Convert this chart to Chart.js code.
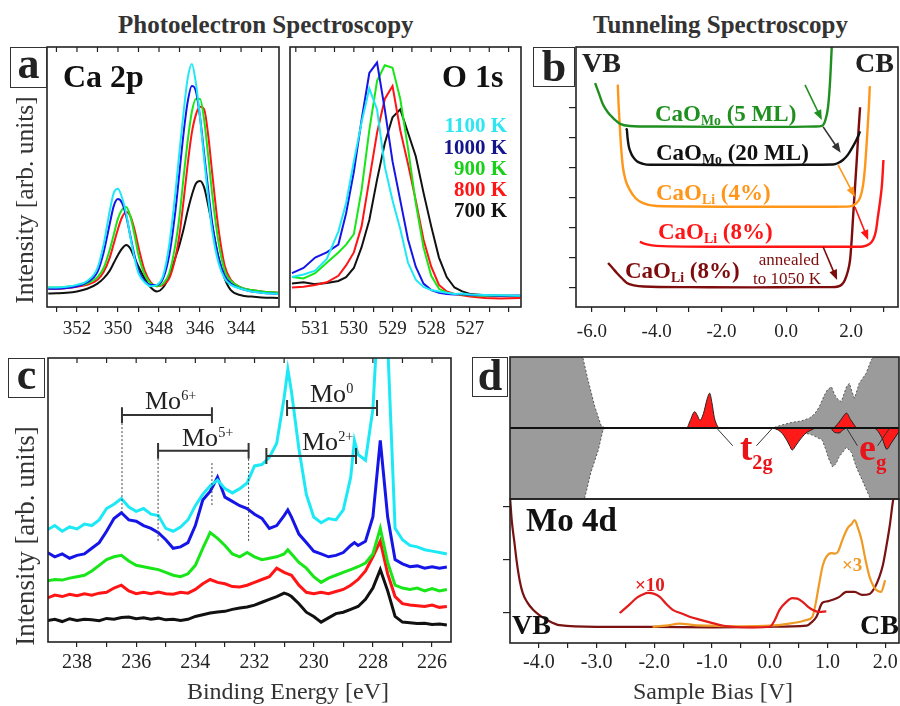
<!DOCTYPE html>
<html>
<head>
<meta charset="utf-8">
<script src="https://cdn.jsdelivr.net/npm/chart.js@4.4.1/dist/chart.umd.min.js"></script>
<style>
  html, body { margin: 0; padding: 0; }
  body { width: 900px; height: 706px; overflow: hidden; position: relative; background: #fff;
         font-family: "Liberation Serif", "Times New Roman", serif; color: #222; }
  canvas { position: absolute; }
  .t { position: absolute; white-space: nowrap; line-height: 1; }
  .box { position: absolute; border: 1.5px solid #333; box-sizing: border-box; background: #fff; }
  .sub { font-size: 0.6em; position: relative; top: 0.3em; }
  .sup { font-size: 0.55em; position: relative; top: -0.65em; }
</style>
</head>
<body>
<canvas id="caChart"></canvas>
<canvas id="oChart"></canvas>
<canvas id="stsChart"></canvas>
<canvas id="moChart"></canvas>
<canvas id="dosChart"></canvas>
<canvas id="mo4dChart"></canvas>
<script>
// ---- panel a: Ca 2p ----
const caX = [353.4, 353, 352.5, 352, 351.5, 351, 350.7, 350.4, 350.2, 350.0, 349.8, 349.6, 349.4, 349.2, 349.0, 348.7, 348.4, 348.1, 347.8, 347.5, 347.2, 347.0, 346.8, 346.6, 346.4, 346.2, 346.0, 345.8, 345.6, 345.4, 345.1, 344.8, 344.5, 344.0, 343.5, 343.0, 342.2];
const ca1100 = [7.5, 7.5, 7.8, 8.5, 10, 15, 24, 37, 44, 45.5, 42, 36, 27, 19, 13, 9.5, 8, 8.5, 12, 24, 44, 60, 75, 88, 93.5, 86, 73, 57, 42, 29, 17, 11, 8.5, 7, 6, 5.5, 5];
const ca1000 = [7, 7, 7.3, 8, 9.5, 13.5, 21, 32, 39, 41.5, 40, 35, 27.5, 20, 14, 10, 8.5, 8.5, 11, 20, 37, 52, 67, 79, 85, 83, 73, 59, 45, 32, 19, 12, 9, 7, 6, 5.5, 5];
const ca900 = [7.5, 7.5, 7.8, 8.3, 9, 11.5, 15, 22, 28, 34, 37.5, 38.5, 35, 28, 20, 12.5, 9, 8, 9, 13, 24, 35, 50, 64, 75, 80, 80, 72, 58, 43, 25, 14, 10, 7.5, 6.5, 6, 5.5];
const ca800 = [7, 7, 7.3, 7.8, 8.5, 10.5, 13.5, 19, 24.5, 30, 34.5, 36.5, 35, 30, 23, 14, 9.5, 8, 8.5, 11, 19, 28, 41, 55, 67, 74, 77, 76, 66, 51, 30, 16, 10.5, 7.5, 6.5, 6, 5.5];
const ca700 = [5.2, 5.3, 5.5, 6, 7, 9, 11, 14, 17, 20, 22.5, 23.8, 22.5, 19, 15.5, 11, 7.5, 6, 7.5, 12, 19, 24, 30, 37, 43, 47.5, 48.5, 46, 39, 31, 19, 11, 6.5, 4.5, 4, 3.7, 3.5];
const caMajor = [352, 350, 348, 346, 344];
const caMinor = [353, 351, 349, 347, 345, 343];

// ---- panel a: O 1s ----
const oX = [531.6, 531.3, 531.0, 530.7, 530.4, 530.2, 530.0, 529.8, 529.6, 529.4, 529.2, 529.0, 528.8, 528.6, 528.4, 528.2, 528.0, 527.8, 527.6, 527.4, 527.2, 527.0, 526.6, 526.2, 525.7];
const o1100 = [11.5, 12.5, 14, 18.5, 29, 40, 56, 71, 84, 76, 54, 41, 30, 17, 10.5, 7.7, 6.5, 6, 5.5, 5, 5.2, 4.8, 4.6, 4.5, 4.3];
const o1000 = [13, 15, 19, 21, 24, 36, 52, 72, 90, 94, 76, 56, 41, 26, 15.5, 9, 6.5, 5.5, 5, 4.8, 5, 4.6, 4.5, 4.3, 4.4];
const o900 = [11.5, 11, 13, 17, 21, 24, 28, 45, 68, 87, 93, 92, 80, 61, 40, 23, 12, 7, 5.5, 5, 4.8, 4.5, 4.3, 4.4, 4.2];
const o800 = [7.5, 7.8, 8.5, 9.5, 12, 16, 21, 31, 49, 67, 80, 85, 68, 55, 41, 26, 15.5, 8.5, 6, 5, 4.5, 4, 3.5, 3.3, 3.5];
const o700 = [9, 9.5, 8.8, 9.2, 10, 11.5, 15, 23, 33.5, 49, 63, 73, 76, 67, 58, 44, 31, 19, 11.5, 7.5, 6, 5, 4.5, 4.2, 4];
const oMajor = [531, 530, 529, 528, 527];
const oMinor = [531.5, 530.5, 529.5, 528.5, 527.5, 526.5, 526];
const tempLabels = ['1100 K', '1000 K', '900 K', '800 K', '700 K'];

// ---- panel b: tunneling spectra ----
const b5X = [-5.9, -5.78, -5.66, -5.52, -5.38, -5.25, -5.13, -4.83, -4.0, -2.0, 0.0, 0.9, 1.1, 1.2, 1.29, 1.35, 1.41, 1.45];
const b5Y = [6.8, 6.45, 6.1, 5.85, 5.68, 5.55, 5.45, 5.38, 5.36, 5.35, 5.35, 5.36, 5.38, 5.55, 6.0, 6.8, 8.1, 8.8];
const b20X = [-4.95, -4.92, -4.9, -4.86, -4.8, -4.73, -4.6, -4.42, -4.2, -3.0, -1.0, 0.5, 1.44, 1.6, 1.75, 1.9, 2.06, 2.18, 2.28];
const b20Y = [5.3, 5.25, 5.0, 4.7, 4.5, 4.35, 4.2, 4.12, 4.09, 4.09, 4.08, 4.09, 4.1, 4.15, 4.25, 4.42, 4.7, 4.95, 5.2];
const b4X = [-5.2, -5.18, -5.15, -5.1, -5.04, -4.95, -4.83, -4.65, -4.42, -4.0, -2.0, 0.0, 1.5, 1.97, 2.15, 2.28, 2.37, 2.43, 2.5, 2.55, 2.58];
const b4Y = [6.75, 6.2, 5.6, 4.7, 4.0, 3.55, 3.26, 2.98, 2.82, 2.72, 2.7, 2.7, 2.7, 2.71, 2.8, 3.0, 3.4, 4.0, 5.1, 6.0, 6.7];
const b8X = [-4.52, -4.3, -4.0, -2.0, 0.0, 1.5, 2.2, 2.37, 2.55, 2.68, 2.77, 2.83, 2.9, 2.96, 3.0];
const b8Y = [1.53, 1.45, 1.4, 1.37, 1.37, 1.37, 1.37, 1.38, 1.45, 1.6, 1.9, 2.37, 2.9, 3.5, 4.25];
const bAnX = [-5.5, -5.35, -5.23, -5.05, -4.92, -4.7, -4.4, -3.0, -1.0, 0.5, 1.4, 1.6, 1.72, 1.81, 1.9, 1.97, 2.02, 2.06, 2.12, 2.18, 2.23, 2.28];
const bAnY = [0.83, 0.65, 0.5, 0.3, 0.17, 0.09, 0.05, 0.03, 0.02, 0.03, 0.03, 0.05, 0.12, 0.27, 0.55, 0.93, 1.6, 2.3, 3.3, 4.3, 5.2, 6.0];
const bMajor = [-6, -4, -2, 0, 2];
const bMinor = [-5, -3, -1, 1, 3];
const bYTicks = [0, 1, 2, 3, 4, 5, 6];
// arrows: [x1, y1, x2, y2] in data units
const bArrows = [[0.58, 6.74, 1.1, 5.58], [1.14, 5.35, 1.68, 4.49], [1.6, 4.09, 2.12, 3.02], [2.12, 2.69, 2.53, 1.59], [1.14, 1.36, 1.57, 0.27]];

// ---- panel c: Mo 3d ----
const cX = [239, 238.75, 238.5, 238.25, 238, 237.75, 237.5, 237.25, 237, 236.75, 236.5, 236.25, 236, 235.75, 235.5, 235.25, 235, 234.75, 234.5, 234.25, 234, 233.75, 233.5, 233.25, 233, 232.75, 232.5, 232.25, 232, 231.75, 231.5, 231.25, 231, 230.875, 230.75, 230.5, 230.25, 230, 229.75, 229.5, 229.25, 229, 228.75, 228.625, 228.5, 228.25, 228, 227.75, 227.5, 227.25, 227, 226.75, 226.5, 226.25, 226, 225.75, 225.5];
const c1100 = [39.5, 41, 39, 40.5, 39.8, 41.5, 41, 43, 47, 48.5, 50.5, 47.5, 46, 47, 45, 44.5, 40, 39, 40.5, 43, 48, 52, 55, 57, 54, 52.5, 54, 56, 62, 62.5, 65, 70, 86, 96, 88, 68, 52, 44, 42, 43.5, 43, 46.5, 58, 71, 66, 64, 82, 130, 105, 40, 36, 34, 33.5, 32.5, 32, 31.5, 31];
const c1000 = [31.5, 30, 31, 29.5, 30.5, 31, 33, 35, 39, 43.5, 45.5, 43, 42.5, 41, 40, 38.5, 36, 33, 33.5, 35, 41, 50, 53, 58, 51, 49.5, 48, 47, 45, 43.5, 40, 41, 44.5, 46.5, 44, 38, 35, 32, 31, 30, 30.5, 31.5, 34, 35, 34, 35.5, 44, 71, 44, 29, 27.5, 26.5, 26.8, 26, 26.5, 26, 26.4];
const c900 = [21.5, 22, 21.8, 22.5, 23, 23.5, 25, 27, 29, 30, 30.5, 28.5, 27, 26.5, 26, 25.5, 24.5, 23.5, 23, 24, 27, 33, 38.5, 36.5, 34, 31, 30, 31.5, 30, 29, 29.5, 30, 31, 32.5, 31, 28, 26, 23, 21, 22.5, 23.5, 24.5, 25.5, 26, 26.5, 27.8, 31, 40, 28, 20, 19, 18.5, 19, 18, 18.8, 18, 18.5];
const c800 = [15.5, 16.5, 16, 16.8, 16.3, 17, 16.5, 17.2, 17.5, 19, 20, 18, 17, 17.5, 17, 17.6, 17, 16.8, 17.5, 17.2, 18.5, 20.5, 22, 21, 20.5, 19.5, 19.4, 20, 21, 22, 23, 26, 24.5, 24, 23.5, 20, 17.5, 17, 17.5, 17, 17.8, 18.5, 20, 21, 22, 25, 30, 35.5, 24, 16, 13.5, 13, 12.8, 12.5, 13, 12.2, 12.5];
const c700 = [7.5, 8, 7.2, 8.2, 7.6, 8, 7.8, 7.5, 8.3, 8, 8.6, 8.8, 8.2, 8.5, 8, 8.4, 7.8, 8, 7.6, 8, 9, 9.6, 10.2, 10.6, 10.8, 11.5, 12, 12.3, 13, 14, 15, 16, 17.2, 16.8, 16, 13.5, 10.5, 9, 7, 8.5, 10, 10.5, 11.5, 12, 12.5, 15, 19, 25.5, 18, 9, 7, 6.8, 6.5, 6.6, 6.2, 6.3, 6];
const cMajor = [238, 236, 234, 232, 230, 228, 226];
const cMinor = [237, 235, 233, 231, 229, 227];
// brackets: [x1, x2, y], dotted guides: [x, yTop, yBottom]
const cBrackets = [[236.48, 233.44, 79.9], [235.26, 232.2, 67.3], [230.9, 227.86, 82.4], [231.6, 228.57, 65.5]];
const cGuides = [[236.48, 79.9, 45.8], [235.26, 67.3, 35.2], [233.44, 63, 47.5], [232.2, 67.3, 35.2]];

// ---- panel d: DOS (top) ----
const dosUpX = [-4.5, -3.3, -3.24, -3.15, -3.03, -2.92, -2.85, 0.05, 0.2, 0.39, 0.55, 0.69, 0.78, 0.86, 0.94, 1.0, 1.07, 1.12, 1.16, 1.24, 1.33, 1.38, 1.43, 1.47, 1.55, 1.67, 1.76, 1.85, 1.95, 2.24];
const dosUpY = [1.4, 1.15, 1.0, 0.68, 0.3, 0.03, 0, 0, 0.04, 0.08, 0.1, 0.14, 0.2, 0.3, 0.45, 0.54, 0.58, 0.48, 0.42, 0.37, 0.58, 0.63, 0.5, 0.42, 0.63, 0.77, 0.96, 1.05, 1.3, 1.3];
const dosDnX = [-4.5, -3.3, -3.2, -3.1, -2.97, -2.89, -2.85, 0.05, 0.3, 0.52, 0.74, 0.91, 0.97, 1.03, 1.09, 1.15, 1.2, 1.33, 1.42, 1.5, 1.6, 1.73, 1.8, 2.24];
const dosDnY = [-1.4, -1.15, -0.97, -0.63, -0.31, -0.03, 0, 0, -0.03, -0.05, -0.1, -0.17, -0.3, -0.45, -0.55, -0.5, -0.41, -0.27, -0.35, -0.55, -0.73, -0.97, -1.2, -1.3];
const moUpX = [-1.5, -1.44, -1.38, -1.3, -1.25, -1.21, -1.15, -1.08, -1.04, -1.0, -0.96, -0.9, -0.87, 1.09, 1.2, 1.28, 1.33, 1.4, 1.5];
const moUpY = [0, 0, 0.1, 0.23, 0.17, 0.11, 0.2, 0.42, 0.49, 0.35, 0.15, 0.02, 0, 0, 0.08, 0.17, 0.21, 0.12, 0];
const moDnX = [0.05, 0.15, 0.22, 0.3, 0.34, 0.39, 0.45, 0.52, 0.63, 0.74, 0.8, 1.05, 1.12, 1.2, 1.28, 1.35, 1.8, 1.88, 1.95, 2.03, 2.1, 2.2, 2.24];
const moDnY = [0, -0.03, -0.08, -0.18, -0.24, -0.31, -0.25, -0.17, -0.07, -0.02, 0, 0, -0.06, -0.07, -0.02, 0, 0, -0.05, -0.15, -0.3, -0.22, -0.1, -0.05];
const dLeaders = [[-0.92, 0, -0.64, -0.25], [-0.23, -0.25, 0.05, 0], [1.33, 0, 1.52, -0.25], [1.87, -0.25, 2.07, -0.01]];

// ---- panel d: STS Mo 4d (bottom) ----
const dBrX = [-4.5, -4.47, -4.42, -4.38, -4.33, -4.28, -4.2, -4.1, -3.98, -3.86, -3.64, -3.0, -2.0, -1.0, 0.0, 0.64, 0.72, 0.81, 0.91, 1.0, 1.09, 1.2, 1.33, 1.47, 1.6, 1.73, 1.82, 1.9, 1.96, 2.02, 2.08, 2.13, 2.2];
const dBrY = [2.2, 1.75, 1.3, 0.94, 0.6, 0.38, 0.2, 0.06, -0.05, -0.13, -0.23, -0.26, -0.26, -0.27, -0.26, -0.24, -0.18, -0.07, 0.19, 0.22, 0.25, 0.3, 0.4, 0.4, 0.34, 0.36, 0.48, 0.68, 0.9, 1.25, 1.65, 2.07, 2.5];
const dRedX = [-2.6, -2.45, -2.3, -2.2, -2.11, -2.0, -1.9, -1.8, -1.68, -1.5, -1.39, -1.2, -0.99, -0.8, -0.64, -0.3, 0.0, 0.08, 0.17, 0.28, 0.39, 0.48, 0.57, 0.66, 0.74, 0.85, 0.98];
const dRedY = [0.0, 0.14, 0.29, 0.35, 0.38, 0.36, 0.3, 0.18, 0.06, -0.02, -0.07, -0.13, -0.19, -0.24, -0.26, -0.27, -0.26, -0.15, 0.06, 0.2, 0.28, 0.27, 0.21, 0.12, 0.06, 0.02, 0.03];
const dOrX = [-2.03, -1.8, -1.56, -1.3, -1.0, -0.5, 0.0, 0.34, 0.55, 0.64, 0.74, 0.8, 0.86, 0.92, 0.98, 1.07, 1.13, 1.18, 1.26, 1.35, 1.42, 1.47, 1.53, 1.59, 1.66, 1.73, 1.8, 1.85, 1.93, 2.0];
const dOrY = [-0.26, -0.24, -0.2, -0.23, -0.24, -0.25, -0.24, -0.2, -0.16, -0.13, -0.07, 0.2, 0.57, 0.9, 1.06, 1.13, 1.12, 1.15, 1.38, 1.6, 1.68, 1.75, 1.6, 1.38, 1.0, 0.68, 0.5, 0.43, 0.4, 0.62];
const dMajor = [-4, -3, -2, -1, 0, 1, 2];
const dMinor = [-3.5, -2.5, -1.5, -0.5, 0.5, 1.5];
const dYTicks = [0, 1, 2];

// colours
const CYAN = '#1de9f6', BLUE = '#1515e8', GREEN = '#19e619', RED = '#ff1515', BLACK = '#111111';
const FOREST = '#1f8f1f', ORANGE = '#ff961a', DARKRED = '#7d0c0c';
const SERIF = '"Liberation Serif", "Times New Roman", serif';

Chart.defaults.animation = false;
Chart.defaults.events = [];
Chart.defaults.font.family = SERIF;
Chart.defaults.color = '#222';
Chart.defaults.plugins.legend.display = false;
Chart.defaults.plugins.tooltip.enabled = false;

const pts = (xs, ys) => xs.map((x, i) => ({ x, y: ys[i] }));
const line = (xs, ys, color, w, extra) => Object.assign({
  data: pts(xs, ys), borderColor: color, borderWidth: w, pointRadius: 0, fill: false, clip: 0
}, extra || {});

// box around the plot area, optional inward ticks on the top edge
const framePlugin = {
  id: 'frame',
  afterDatasetsDraw(chart, args, opts) {
    const { ctx, chartArea: a } = chart;
    ctx.save();
    ctx.strokeStyle = '#222';
    ctx.lineWidth = 1.6;
    ctx.strokeRect(a.left, a.top, a.right - a.left, a.bottom - a.top);
    if (opts.topTicks) {
      const xs = chart.scales.x;
      ctx.lineWidth = 1.2;
      xs.ticks.forEach(t => {
        const px = xs.getPixelForValue(t.value);
        ctx.beginPath(); ctx.moveTo(px, a.top); ctx.lineTo(px, a.top + 5); ctx.stroke();
      });
    }
    ctx.restore();
  }
};

function xAxis(min, max, reverse, majors, minors, fmt, height, labelPad, size) {
  return {
    type: 'linear', min, max, reverse,
    afterBuildTicks: s => { s.ticks = majors.concat(minors).sort((p, q) => p - q).map(v => ({ value: v })); },
    afterFit: s => { s.height = height; s.paddingLeft = 0; s.paddingRight = 0; },
    ticks: {
      autoSkip: false, maxRotation: 0, minRotation: 0, padding: labelPad, color: '#222',
      font: { size, family: SERIF },
      callback: v => majors.some(m => Math.abs(m - v) < 1e-9) ? fmt(v) : ''
    },
    grid: { drawOnChartArea: false, tickLength: 5, color: '#222', lineWidth: 1.2 },
    border: { display: false }
  };
}
function yTicksAxis(min, max, ticks) {
  return {
    type: 'linear', min, max,
    afterBuildTicks: s => { s.ticks = ticks.map(v => ({ value: v })); },
    afterFit: s => { s.width = 8; },
    ticks: { display: false },
    grid: { drawOnChartArea: false, tickLength: 7, color: '#222', lineWidth: 1.2 },
    border: { display: false }
  };
}

function makeChart(id, box, pad, yW, scales, datasets, frameOpts, extraPlugins) {
  const cv = document.getElementById(id);
  const W = box.w + pad.l + pad.r, H = box.h + pad.t + pad.b;
  cv.width = W; cv.height = H;
  cv.style.width = W + 'px'; cv.style.height = H + 'px';
  cv.style.left = (box.l - pad.l) + 'px'; cv.style.top = (box.t - pad.t) + 'px';
  return new Chart(cv, {
    type: 'line',
    data: { datasets },
    options: {
      responsive: false, maintainAspectRatio: false,
      layout: { padding: { left: pad.l - yW, top: pad.t, right: pad.r, bottom: scales.x.display === false ? pad.b : 0 } },
      scales,
      plugins: { frame: frameOpts || {} }
    },
    plugins: [framePlugin].concat(extraPlugins || [])
  });
}

const intFmt = v => String(v);
const oneDec = v => v.toFixed(1);

// a: Ca 2p
makeChart('caChart', { l: 47, t: 47, w: 232, h: 260 }, { l: 20, t: 4, r: 20, b: 40 }, 0, {
  x: xAxis(342.15, 353.46, true, caMajor, caMinor, intFmt, 40, 6, 19),
  y: { display: false, min: 0, max: 100 }
}, [
  line(caX, ca1100, CYAN, 2, { cubicInterpolationMode: 'monotone' }),
  line(caX, ca1000, BLUE, 2, { cubicInterpolationMode: 'monotone' }),
  line(caX, ca900, GREEN, 2, { cubicInterpolationMode: 'monotone' }),
  line(caX, ca800, RED, 2, { cubicInterpolationMode: 'monotone' }),
  line(caX, ca700, BLACK, 2, { cubicInterpolationMode: 'monotone' })
], { topTicks: true });

// a: O 1s
makeChart('oChart', { l: 290, t: 47, w: 231, h: 260 }, { l: 20, t: 4, r: 20, b: 40 }, 0, {
  x: xAxis(525.68, 531.65, true, oMajor, oMinor, intFmt, 40, 6, 19),
  y: { display: false, min: 0, max: 100 }
}, [
  line(oX, o1100, CYAN, 2),
  line(oX, o1000, BLUE, 2),
  line(oX, o900, GREEN, 2),
  line(oX, o800, RED, 2),
  line(oX, o700, BLACK, 2)
], { topTicks: true });

// b: tunneling spectra with arrows
const arrowPlugin = {
  id: 'arrows',
  afterDatasetsDraw(chart) {
    const { ctx } = chart, xs = chart.scales.x, ys = chart.scales.y;
    const cols = [FOREST, '#333', ORANGE, RED, DARKRED];
    bArrows.forEach((a, i) => {
      const x1 = xs.getPixelForValue(a[0]), y1 = ys.getPixelForValue(a[1]);
      const x2 = xs.getPixelForValue(a[2]), y2 = ys.getPixelForValue(a[3]);
      const ang = Math.atan2(y2 - y1, x2 - x1), L = 10, hw = 4;
      ctx.save();
      ctx.strokeStyle = cols[i]; ctx.fillStyle = cols[i]; ctx.lineWidth = 1.6;
      ctx.beginPath(); ctx.moveTo(x1, y1); ctx.lineTo(x2 - 6 * Math.cos(ang), y2 - 6 * Math.sin(ang)); ctx.stroke();
      ctx.beginPath(); ctx.moveTo(x2, y2);
      ctx.lineTo(x2 - L * Math.cos(ang) + hw * Math.sin(ang), y2 - L * Math.sin(ang) - hw * Math.cos(ang));
      ctx.lineTo(x2 - L * Math.cos(ang) - hw * Math.sin(ang), y2 - L * Math.sin(ang) + hw * Math.cos(ang));
      ctx.closePath(); ctx.fill();
      ctx.restore();
    });
  }
};
makeChart('stsChart', { l: 576, t: 47, w: 322, h: 260 }, { l: 20, t: 4, r: 20, b: 40 }, 8, {
  x: xAxis(-6.49, 3.45, false, bMajor, bMinor, oneDec, 40, 9, 19),
  y: yTicksAxis(-0.63, 8.0, bYTicks)
}, [
  line(b5X, b5Y, FOREST, 2.4, { cubicInterpolationMode: 'monotone' }),
  line(b20X, b20Y, BLACK, 2.4, { cubicInterpolationMode: 'monotone' }),
  line(b4X, b4Y, ORANGE, 2.4, { cubicInterpolationMode: 'monotone' }),
  line(b8X, b8Y, RED, 2.4, { cubicInterpolationMode: 'monotone' }),
  line(bAnX, bAnY, DARKRED, 2.4, { cubicInterpolationMode: 'monotone' })
], {}, [arrowPlugin]);

// c: Mo 3d with brackets
const bracketPts = [];
cBrackets.forEach(([x1, x2, y]) => {
  bracketPts.push({ x: x1, y: y - 2.8 }, { x: x1, y: y + 2.8 }, { x: x1, y: null },
    { x: x1, y }, { x: x2, y }, { x: x2, y: null },
    { x: x2, y: y - 2.8 }, { x: x2, y: y + 2.8 }, { x: x2, y: null });
});
const guidePts = [];
cGuides.forEach(([x, y1, y2]) => { guidePts.push({ x, y: y1 }, { x, y: y2 }, { x, y: null }); });

makeChart('moChart', { l: 48, t: 358, w: 403, h: 284 }, { l: 20, t: 4, r: 20, b: 40 }, 0, {
  x: xAxis(225.36, 238.98, true, cMajor, cMinor, intFmt, 40, 4, 20),
  y: { display: false, min: 0, max: 100 }
}, [
  { data: bracketPts, borderColor: '#333', borderWidth: 2, pointRadius: 0, spanGaps: false, clip: 0 },
  { data: guidePts, borderColor: '#444', borderWidth: 1, borderDash: [2, 2], pointRadius: 0, spanGaps: false, clip: 0 },
  line(cX, c1100, CYAN, 3),
  line(cX, c1000, BLUE, 3),
  line(cX, c900, GREEN, 3),
  line(cX, c800, RED, 3),
  line(cX, c700, BLACK, 3)
], { topTicks: true });

// d top: density of states
const leaderPts = [];
dLeaders.forEach(([x1, y1, x2, y2]) => { leaderPts.push({ x: x1, y: y1 }, { x: x2, y: y2 }, { x: x2, y: null }); });
makeChart('dosChart', { l: 510, t: 357, w: 389, h: 142 }, { l: 5, t: 3, r: 5, b: 3 }, 0, {
  x: { type: 'linear', display: false, min: -4.5, max: 2.24 },
  y: { type: 'linear', display: false, min: -1, max: 1 }
}, [
  { data: leaderPts, borderColor: '#333', borderWidth: 1, pointRadius: 0, spanGaps: false, clip: 0, order: 0 },
  line([-4.5, 2.24], [0, 0], '#111', 2, { order: 1 }),
  line(moUpX, moUpY, '#222', 1, { fill: 'origin', backgroundColor: '#ff1a1a', cubicInterpolationMode: 'monotone', order: 2 }),
  line(moDnX, moDnY, '#222', 1, { fill: 'origin', backgroundColor: '#ff1a1a', cubicInterpolationMode: 'monotone', order: 2 }),
  line(dosUpX, dosUpY, '#555', 1, { fill: 'origin', backgroundColor: '#9b9b9b', borderDash: [2, 2], order: 3 }),
  line(dosDnX, dosDnY, '#555', 1, { fill: 'origin', backgroundColor: '#9b9b9b', borderDash: [2, 2], order: 3 })
], {});

// d bottom: Mo 4d tunneling spectra
makeChart('mo4dChart', { l: 510, t: 499, w: 389, h: 144 }, { l: 20, t: 3, r: 25, b: 40 }, 8, {
  x: xAxis(-4.5, 2.24, false, dMajor, dMinor, oneDec, 40, 3, 20),
  y: yTicksAxis(-0.566, 2.15, dYTicks)
}, [
  line(dRedX, dRedY, '#e31b1b', 2.2, { cubicInterpolationMode: 'monotone' }),
  line(dOrX, dOrY, '#f09a26', 2.2, { cubicInterpolationMode: 'monotone' }),
  line(dBrX, dBrY, '#7a1212', 2.2, { cubicInterpolationMode: 'monotone' })
], {});

// ---- text ----
function txt(html, x, base, size, o) {
  o = o || {};
  const d = document.createElement('div');
  d.className = 't';
  d.innerHTML = html;
  d.style.fontSize = size + 'px';
  d.style.left = x + 'px';
  d.style.top = (base - 0.84 * size) + 'px';
  if (o.bold) d.style.fontWeight = 'bold';
  d.style.color = o.color || '#222';
  if (o.align === 'center') d.style.transform = 'translateX(-50%)';
  if (o.align === 'right') d.style.transform = 'translateX(-100%)';
  document.body.appendChild(d);
  return d;
}
function box(l, t, w, h) {
  const d = document.createElement('div');
  d.className = 'box';
  Object.assign(d.style, { left: l + 'px', top: t + 'px', width: w + 'px', height: h + 'px' });
  document.body.appendChild(d);
}
function yTitle(cx, cy, size) {
  const d = txt('Intensity [arb. units]', cx, cy, size, { color: '#333' });
  d.style.top = cy + 'px';
  d.style.transform = 'translate(-50%, -50%) rotate(-90deg)';
}

txt('Photoelectron Spectroscopy', 118, 33, 25, { bold: true, color: '#333' });
txt('Tunneling Spectroscopy', 593, 33, 25, { bold: true, color: '#333' });

yTitle(25, 200, 25.5);
yTitle(25, 536, 27);

box(10, 47, 37, 41); txt('a', 28.5, 79, 44, { bold: true, align: 'center' });
box(533, 47, 42, 40); txt('b', 554, 82, 44, { bold: true, align: 'center' });
box(8, 358, 37, 40); txt('c', 26.5, 390, 44, { bold: true, align: 'center' });
box(472, 357, 36, 40); txt('d', 490, 391, 44, { bold: true, align: 'center' });

txt('Binding Energy [eV]', 288, 699, 24, { align: 'center', color: '#333' });
txt('Sample Bias [V]', 713, 699, 24, { align: 'center', color: '#333' });

txt('Ca 2p', 63, 87, 32, { bold: true, color: '#111' });
txt('O 1s', 442, 87, 32, { bold: true, color: '#111' });
const tempColors = ['#2ee6f2', '#14148c', '#19d019', '#ff1515', '#111'];
tempLabels.forEach((s, i) => txt(s, 507, 133 + i * 21.2, 21, { bold: true, align: 'right', color: tempColors[i] }));

txt('VB', 582, 73, 28, { bold: true });
txt('CB', 855, 73, 28, { bold: true });
txt('CaO<span class="sub">Mo</span> (5 ML)', 655, 121, 23, { bold: true, color: FOREST });
txt('CaO<span class="sub">Mo</span> (20 ML)', 656, 160, 23, { bold: true, color: BLACK });
txt('CaO<span class="sub">Li</span> (4%)', 656, 200, 23, { bold: true, color: ORANGE });
txt('CaO<span class="sub">Li</span> (8%)', 658, 239, 23, { bold: true, color: RED });
txt('CaO<span class="sub">Li</span> (8%)', 625, 278, 23, { bold: true, color: DARKRED });
txt('annealed', 789, 265, 17, { align: 'center', color: DARKRED });
txt('to 1050 K', 787, 284, 17, { align: 'center', color: DARKRED });

txt('Mo<span class="sup">6+</span>', 145, 410, 26, { color: '#222' });
txt('Mo<span class="sup">5+</span>', 182, 447, 26, { color: '#222' });
txt('Mo<span class="sup">0</span>', 310, 403, 26, { color: '#222' });
txt('Mo<span class="sup">2+</span>', 302, 451, 26, { color: '#222' });

txt('t<span style="font-size:0.55em;position:relative;top:0.45em">2g</span>', 740, 460, 37, { bold: true, color: '#e8141a' });
txt('e<span style="font-size:0.55em;position:relative;top:0.45em">g</span>', 859, 460, 38, { bold: true, color: '#e8141a' });
txt('Mo 4d', 526, 532, 33, { bold: true, color: '#111' });
txt('\u00d710', 635, 591, 19, { bold: true, color: '#e31b1b' });
txt('\u00d73', 842, 571, 19, { bold: true, color: '#f09a26' });
txt('VB', 512, 635, 28, { bold: true, color: '#111' });
txt('CB', 860, 635, 28, { bold: true, color: '#111' });
</script>
</body>
</html>
